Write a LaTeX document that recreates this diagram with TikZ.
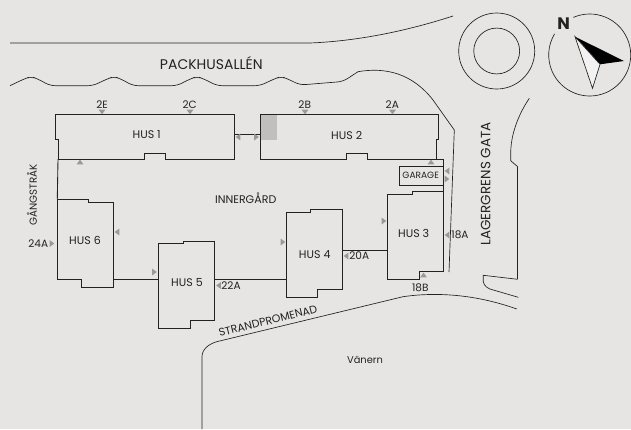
\documentclass[tikz,border=0pt]{standalone}
\usepackage{fontspec}
\setmainfont{Poppins}
\definecolor{planbg}{HTML}{E6E5E3}
\definecolor{plangray}{HTML}{999999}
\definecolor{planink}{HTML}{222222}
\tikzset{
  hus/.style={draw=planink, line width=0.65pt, line join=miter},
  road/.style={draw=planink, line width=0.5pt},
  lbl/.style={font=\fontsize{7.9pt}{8pt}\selectfont, text=planink, inner sep=0pt},
  huslbl/.style={lbl, font=\fontsize{8.3pt}{9pt}\selectfont},
}
\newcommand{\tri}[3]{\fill[plangray, shift={(#1,#2)}, rotate=#3] (-3.4,-2.3) -- (3.4,-2.3) -- (0,2.3) -- cycle;}
\begin{document}
\begin{tikzpicture}[x=0.75pt, y=-0.75pt]
  \useasboundingbox[fill=planbg] (0,0) rectangle (631,429);

  % roads
  \draw[road] (10,43) -- (310,43) .. controls (360,41) and (410,30) .. (453,16);
  \draw[road, rounded corners=4pt] (10,85.7) -- (24,79) -- (31,76.5) -- (38,79) -- (50,85.7) -- (93,85.7) -- (107,79) -- (114,76.5) -- (121,79) -- (133,85.7)
    -- (177,85.7) -- (190,79) -- (197,76.5) -- (204,79) -- (217,85.7) -- (260,85.7) -- (274,79) -- (281,76.5) -- (288,79) -- (300,85)
    -- (343,81.5) -- (358,71.7);
  \draw[road] (358,71.7) .. controls (385,67) and (412,73) .. (433,100) -- (454.3,130) -- (449,272);
  \draw[road] (202,429) -- (202,356.7) .. controls (202,349) and (209,344) .. (216.7,341.7) -- (403,296.7)
    .. controls (435,292) and (475,294) .. (516.7,309);
  \draw[road] (529.3,98.3) .. controls (518,115) and (510.7,135) .. (510.7,153.3) -- (510.7,160.7) -- (517.7,166.7);
  \draw[hus] (517.7,166.7) -- (517.7,279.3);
  \draw[road] (517.7,279.3) -- (483.3,275.3) -- (483.3,281.7) .. controls (484,286) and (488,289) .. (493.3,290) -- (518.3,297.3);

  % roundabout and compass
  \draw[road] (496.7,51) circle[radius=28.5pt];
  \draw[road] (496.7,51) circle[radius=17.2pt];
  \draw[road] (589.7,55) ++(113.5:30.75pt) arc[start angle=113.5, end angle=-211, radius=30.75pt];
  \fill[black] (575,36.7) -- (624,61) -- (600,64.3) -- cycle;
  \draw[road, fill=black!5] (575,36.7) -- (600,64.3) -- (592.5,88.3) -- cycle;
  \node[font=\bfseries\fontsize{12.5pt}{13pt}\selectfont, text=planink, inner sep=0pt] (north) at (563.7,23.7) {N};

  % buildings
  \fill[black!25] (261,115) rectangle (277,140);
  \draw[hus] (55,114.5) -- (234,114.5) -- (234,159) -- (165,159) -- (165,153) -- (144,153) -- (144,159) -- (58,159) -- (58,139) -- (55,139) -- cycle;
  \draw[hus] (260,114.5) -- (438,114.5) -- (438,139) -- (436,139) -- (436,159) -- (367,159) -- (367,153) -- (346,153) -- (346,159) -- (260,159) -- cycle;
  \draw[hus] (234,134) -- (260,134);
  \draw[hus] (436,159) -- (443.5,159) -- (443.5,191.3);
  \draw[hus] (58,159) -- (57.3,199);
  \draw[hus] (399,166) rectangle (443.5,185);
  \draw[hus] (387.3,194) -- (412,194) -- (412,191.3) -- (443.5,191.3) -- (443.5,271) -- (419,271) -- (419,279) -- (387.3,279) -- cycle;
  \draw[hus] (286.3,212.3) -- (310.7,212.3) -- (310.7,209.7) -- (342.3,209.7) -- (342.3,289.7) -- (317.7,289.7) -- (317.7,297.7) -- (286.3,297.7) -- cycle;
  \draw[hus] (158.3,243.3) -- (183,243.3) -- (183,241) -- (214.3,241) -- (214.3,320.3) -- (190.7,320.3) -- (190.7,328.3) -- (158.3,328.3) -- cycle;
  \draw[hus] (57.3,199) -- (88.7,199) -- (88.7,202.3) -- (113.3,202.3) -- (113.3,287.3) -- (81.3,287.3) -- (81.3,279.3) -- (57.3,279.3) -- cycle;
  \draw[hus] (342.3,250) -- (387.3,250);
  \draw[hus] (214.3,279.3) -- (286.3,279.3);
  \draw[hus] (113.3,279.3) -- (158.3,279.3);

  % entrance marks
  \tri{102}{112}{0} \tri{190}{112}{0} \tri{305}{112}{0} \tri{392.5}{112}{0}
  \tri{80}{162}{180} \tri{431}{162}{180} \tri{423.5}{275}{180}
  \tri{238}{137}{-90} \tri{256.5}{137}{90}
  \tri{447}{171}{-90} \tri{447}{179}{90}
  \tri{117}{232}{-90} \tri{52}{243.5}{90} \tri{154.5}{272}{90} \tri{218.5}{285.5}{-90}
  \tri{283}{242}{90} \tri{346}{256}{-90} \tri{384}{221}{90} \tri{447}{235}{-90}

  % labels
  \node[lbl, font=\fontsize{10.5pt}{11pt}\selectfont] (allen) at (211.3,63.3) {PACKHUSALLÉN};
  \node[huslbl] (hus1) at (146.7,135) {HUS 1};
  \node[huslbl] (hus2) at (346.7,135) {HUS 2};
  \node[huslbl] (hus3) at (413.7,233) {HUS 3};
  \node[huslbl] (hus4) at (314.7,254.3) {HUS 4};
  \node[huslbl] (hus5) at (187,282.3) {HUS 5};
  \node[huslbl] (hus6) at (85,240) {HUS 6};
  \node[lbl, font=\fontsize{6.8pt}{7pt}\selectfont] (garage) at (420.7,175.7) {GARAGE};
  \node[huslbl] (inner) at (245.7,198.3) {INNERGÅRD};
  \node[lbl] (e2) at (102,105) {2E};
  \node[lbl] (c2) at (189.7,105) {2C};
  \node[lbl] (b2) at (304.7,105) {2B};
  \node[lbl] (a2) at (392.3,105) {2A};
  \node[lbl] (a24) at (38.3,243.3) {24A};
  \node[lbl] (a22) at (231,285.3) {22A};
  \node[lbl] (a20) at (359.3,256) {20A};
  \node[lbl] (a18) at (460,234.3) {18A};
  \node[lbl] (b18) at (420.3,287.3) {18B};
  \node[lbl, font=\fontsize{7.4pt}{8pt}\selectfont] (vanern) at (365,360) {Vänern};
  \node[lbl, rotate=90, font=\fontsize{7.7pt}{8pt}\selectfont] (gang) at (32,195) {GÅNGSTRÅK};
  \node[lbl, rotate=90, font=\fontsize{10.1pt}{11pt}\selectfont] (lager) at (485.7,184) {LAGERGRENS GATA};
  \node[lbl, rotate=14, font=\fontsize{8.2pt}{9pt}\selectfont] (strand) at (268,321) {STRANDPROMENAD};
\end{tikzpicture}
\end{document}
